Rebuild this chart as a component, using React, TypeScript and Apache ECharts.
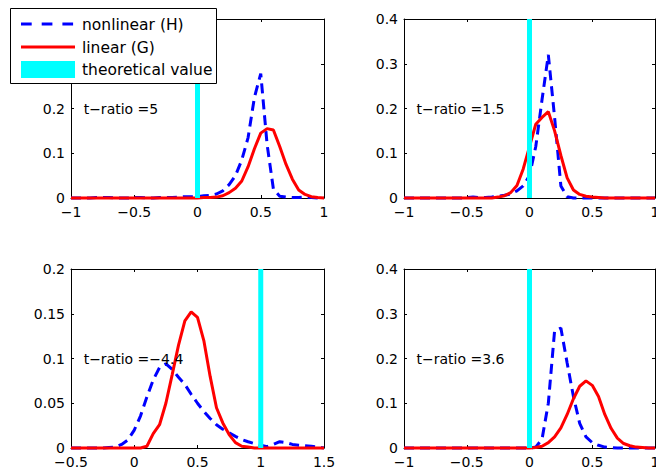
import React, { useEffect, useRef } from "react";
import * as echarts from "echarts";

// x grids
const gridA = [
  -1, -0.95, -0.9, -0.85, -0.8, -0.75, -0.7, -0.65, -0.6, -0.55, -0.5, -0.45, -0.4, -0.35, -0.3, -0.25, -0.2, -0.15, -0.1, -0.05,
  0, 0.05, 0.1, 0.15, 0.2, 0.25, 0.3, 0.35, 0.4, 0.45, 0.5, 0.55, 0.6, 0.65, 0.7, 0.75, 0.8, 0.85, 0.9, 0.95, 1,
];
const gridB = [
  -0.5, -0.45, -0.4, -0.35, -0.3, -0.25, -0.2, -0.15, -0.1, -0.05, 0, 0.05, 0.1, 0.15, 0.2, 0.25, 0.3, 0.35, 0.4, 0.45,
  0.5, 0.55, 0.6, 0.65, 0.7, 0.75, 0.8, 0.85, 0.9, 0.95, 1, 1.05, 1.1, 1.15, 1.2, 1.25, 1.3, 1.35, 1.4, 1.45, 1.5,
];

// top-left panel (t-ratio = 5)
const tlNonlinear = [
  0, 0, 0, 0, 0.001, 0.001, 0.001, 0, 0, 0, 0.001, 0.001, 0, 0, 0.001, 0.001, 0.001, 0.002, 0.003, 0.003,
  0.003, 0.005, 0.006, 0.009, 0.016, 0.03, 0.05, 0.085, 0.135, 0.225, 0.278, 0.12, 0.02, 0.004, 0.002, 0.001, 0.001, 0.002, 0.001, 0, 0,
];
const tlLinear = [
  0, 0, 0, 0, 0, 0, 0, 0, 0, 0, 0, 0, 0, 0, 0, 0, 0, 0, 0, 0,
  0, 0.001, 0.001, 0.002, 0.005, 0.012, 0.022, 0.038, 0.07, 0.11, 0.145, 0.155, 0.152, 0.115, 0.075, 0.042, 0.018, 0.008, 0.003, 0.001, 0,
];

// top-right panel (t-ratio = 1.5)
const trNonlinear = [
  0, 0, 0, 0, 0, 0, 0, 0, 0, 0, 0.001, 0.002, 0.001, 0.001, 0.002, 0.004, 0.006, 0.009, 0.016, 0.027,
  0.05, 0.115, 0.22, 0.32, 0.18, 0.027, 0.003, 0, 0, 0, 0, 0, 0, 0, 0, 0, 0, 0, 0, 0, 0,
];
const trLinear = [
  0, 0, 0, 0, 0, 0, 0, 0, 0, 0, 0, 0, 0, 0, 0, 0.002, 0.005, 0.012, 0.028, 0.065,
  0.115, 0.165, 0.18, 0.193, 0.15, 0.095, 0.045, 0.018, 0.008, 0.004, 0.002, 0.001, 0, 0, 0, 0, 0, 0, 0, 0, 0,
];

// bottom-left panel (t-ratio = -4.4)
const blNonlinear = [
  0, 0, 0, 0, 0, 0, 0.0005, 0.001, 0.004, 0.009, 0.02, 0.036, 0.057, 0.076, 0.09, 0.094, 0.088, 0.079, 0.071, 0.06,
  0.05, 0.041, 0.033, 0.026, 0.021, 0.017, 0.013, 0.0095, 0.007, 0.005, 0.003, 0.0015, 0.004, 0.007, 0.006, 0.004, 0.003, 0.0025, 0.002, 0.001, 0,
];
const blLinear = [
  0, 0, 0, 0, 0, 0, 0, 0, 0, 0, 0, 0, 0.002, 0.016, 0.026, 0.05, 0.082, 0.115, 0.142, 0.152,
  0.146, 0.12, 0.08, 0.045, 0.028, 0.015, 0.006, 0.002, 0.001, 0, 0, 0, 0, 0, 0, 0, 0, 0, 0, 0, 0,
];

// bottom-right panel (t-ratio = 3.6)
const brNonlinear = [
  0, 0, 0, 0, 0, 0, 0, 0, 0, 0, 0, 0, 0, 0, 0, 0, 0, 0, 0, 0,
  0, 0.002, 0.02, 0.1, 0.262, 0.268, 0.19, 0.115, 0.055, 0.025, 0.012, 0.006, 0.002, 0.001, 0, 0, 0, 0, 0, 0, 0,
];
const brLinear = [
  0, 0, 0, 0, 0, 0, 0, 0, 0, 0, 0, 0, 0, 0, 0, 0, 0, 0, 0, 0,
  0, 0.001, 0.004, 0.012, 0.025, 0.045, 0.075, 0.11, 0.138, 0.15, 0.14, 0.115, 0.075, 0.044, 0.022, 0.01, 0.005, 0.002, 0.001, 0, 0,
];

const theoreticalValues = [0, 0, 1, 0];
const tRatioLabels = ["t\u2212ratio =5", "t\u2212ratio =1.5", "t\u2212ratio =\u22124.4", "t\u2212ratio =3.6"];
const legendNames = ["nonlinear (H)", "linear (G)", "theoretical value"];

const panels = [
  { x: gridA, nl: tlNonlinear, li: tlLinear, xMin: -1, xMax: 1, yMax: 0.4, yInt: 0.1, textAt: [-0.9, 0.2], rect: { left: 71, top: 19, width: 253, height: 179 } },
  { x: gridA, nl: trNonlinear, li: trLinear, xMin: -1, xMax: 1, yMax: 0.4, yInt: 0.1, textAt: [-0.9, 0.2], rect: { left: 404, top: 19, width: 251, height: 179 } },
  { x: gridB, nl: blNonlinear, li: blLinear, xMin: -0.5, xMax: 1.5, yMax: 0.2, yInt: 0.05, textAt: [-0.4, 0.1], rect: { left: 71, top: 269, width: 253, height: 179 } },
  { x: gridA, nl: brNonlinear, li: brLinear, xMin: -1, xMax: 1, yMax: 0.4, yInt: 0.1, textAt: [-0.9, 0.2], rect: { left: 404, top: 269, width: 251, height: 179 } },
];

const FONT = "DejaVu Sans";
const fmt = (v: number) => String(Math.round(v * 1000) / 1000).replace("-", "\u2212");

export default function App() {
  const ref = useRef<HTMLDivElement>(null);
  useEffect(() => {
    if (!ref.current) return;
    const chart = echarts.init(ref.current, undefined, { renderer: "svg" });
    const grids: any[] = [];
    const xAxes: any[] = [];
    const yAxes: any[] = [];
    const series: any[] = [];
    const axisLine = { show: true, onZero: false, lineStyle: { color: "#000", width: 1 } };
    const axisTick = { show: true, inside: true, length: 3, lineStyle: { color: "#000", width: 1 } };
    panels.forEach((p, i) => {
      grids.push({ ...p.rect, containLabel: false, outerBoundsMode: "none" });
      const xBase = { gridIndex: i, type: "value", min: p.xMin, max: p.xMax, interval: 0.5, axisLine, axisTick, splitLine: { show: false } };
      xAxes.push({ ...xBase, position: "bottom", axisLabel: { color: "#000", fontFamily: FONT, fontSize: 14, margin: 7, formatter: fmt, showMaxLabel: true, showMinLabel: true, hideOverlap: false } });
      xAxes.push({ ...xBase, position: "top", axisLabel: { show: false } });
      const yBase = { gridIndex: i, type: "value", min: 0, max: p.yMax, interval: p.yInt, axisLine, axisTick, splitLine: { show: false } };
      yAxes.push({ ...yBase, position: "left", axisLabel: { color: "#000", fontFamily: FONT, fontSize: 14, margin: 6, formatter: fmt } });
      yAxes.push({ ...yBase, position: "right", axisLabel: { show: false } });
      series.push({
        type: "line", name: legendNames[0], xAxisIndex: 2 * i, yAxisIndex: 2 * i, symbol: "none", clip: false,
        data: p.x.map((v, j) => [v, p.nl[j]]),
        lineStyle: { color: "#0000FF", width: 3, type: [10, 6] }, z: 2,
      });
      series.push({
        type: "line", name: legendNames[1], xAxisIndex: 2 * i, yAxisIndex: 2 * i, symbol: "none", clip: false,
        data: p.x.map((v, j) => [v, p.li[j]]),
        lineStyle: { color: "#FF0000", width: 3 }, z: 3,
      });
      series.push({
        type: "line", name: legendNames[2], xAxisIndex: 2 * i, yAxisIndex: 2 * i, symbol: "none",
        data: [[theoreticalValues[i], 0], [theoreticalValues[i], p.yMax]],
        lineStyle: { color: "#00FFFF", width: 5 }, z: 4,
      });
    });
    chart.setOption({ animation: false, grid: grids, xAxis: xAxes, yAxis: yAxes, series });

    const graphic: any[] = [];
    panels.forEach((p, i) => {
      const pt = chart.convertToPixel({ xAxisIndex: 2 * i, yAxisIndex: 2 * i } as any, p.textAt) as number[];
      graphic.push({
        type: "text", x: pt[0], y: pt[1], z: 50,
        style: { text: tRatioLabels[i], fill: "#000", font: `14px "${FONT}"`, textAlign: "left", textVerticalAlign: "middle" },
      });
    });
    // legend box
    graphic.push({ type: "rect", z: 100, shape: { x: 10.5, y: 8.5, width: 206, height: 75 }, style: { fill: "#fff", stroke: "#000", lineWidth: 1 } });
    graphic.push({ type: "line", z: 101, shape: { x1: 21, y1: 24, x2: 75, y2: 24 }, style: { stroke: "#0000FF", lineWidth: 3, lineDash: [10.7, 10] } });
    graphic.push({ type: "line", z: 101, shape: { x1: 21, y1: 47, x2: 75, y2: 47 }, style: { stroke: "#FF0000", lineWidth: 3 } });
    graphic.push({ type: "rect", z: 101, shape: { x: 21, y: 61, width: 54, height: 17 }, style: { fill: "#00FFFF" } });
    [25, 47.5, 70].forEach((y, k) => {
      graphic.push({ type: "text", z: 101, x: 82, y, style: { text: legendNames[k], fill: "#000", font: `15.5px "${FONT}"`, textAlign: "left", textVerticalAlign: "middle" } });
    });
    chart.setOption({ graphic });
    return () => chart.dispose();
  }, []);
  return <div ref={ref} style={{ position: "absolute", left: 0, top: 0, width: 656, height: 474, background: "#fff" }} />;
}
